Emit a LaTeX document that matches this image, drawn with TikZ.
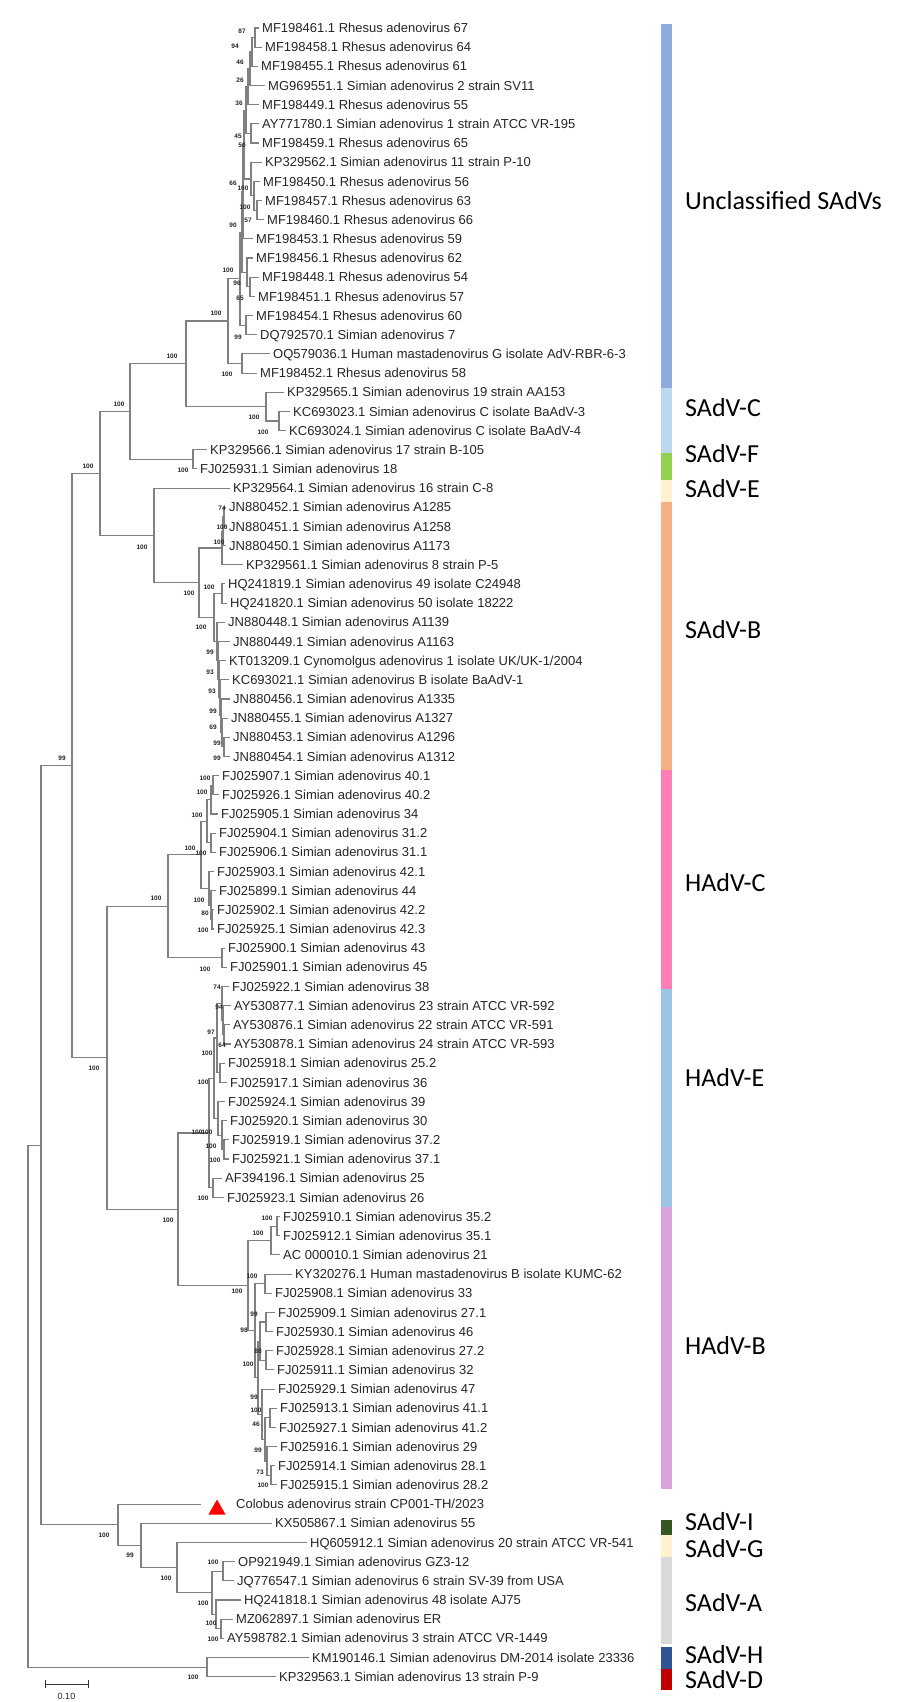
\documentclass[tikz,border=0pt]{standalone}
\usepackage{fontspec}
\setmainfont{Liberation Sans}
\newfontfamily\grpfont{Carlito}
\usetikzlibrary{calc}
\definecolor{brc}{HTML}{808080}
\definecolor{txc}{HTML}{262626}
\definecolor{cUnc}{HTML}{8FAADC}
\definecolor{cSC}{HTML}{BDD7EE}
\definecolor{cSF}{HTML}{92D050}
\definecolor{cSE}{HTML}{FFF2CC}
\definecolor{cSB}{HTML}{F4B183}
\definecolor{cHC}{HTML}{FF7EB3}
\definecolor{cHE}{HTML}{9DC3E6}
\definecolor{cHB}{HTML}{D9A3DC}
\definecolor{cSI}{HTML}{375623}
\definecolor{cSG}{HTML}{FFF2CC}
\definecolor{cSA}{HTML}{D9D9D9}
\definecolor{cSH}{HTML}{2F5597}
\definecolor{cSD}{HTML}{C00000}
\tikzset{
  brl/.style={draw=brc, line width=1.1pt},
  lab/.style={anchor=west, inner sep=0pt, text=txc, font=\fontsize{13}{13}\selectfont, text height=9.3pt, text depth=0pt},
  bsl/.style={inner sep=0pt, text=txc, font=\bfseries\fontsize{6.5}{7}\selectfont},
  grp/.style={anchor=west, inner sep=0pt, text=black, font=\grpfont\fontsize{26}{26}\selectfont, text height=16.7pt, text depth=0pt},
}
\newcommand\lf[4]{%
  \pgfmathsetmacro\lfy{28+(#2-1)*19.17}%
  \coordinate (#1) at (#3,\lfy);%
  \node[lab] (#1t) at (#3+3,\lfy) {#4};}
\newcommand\cl[4]{%
  \coordinate (cla) at ($(#3)!0.5!(#4)$);%
  \coordinate (clb) at (#2,0);%
  \coordinate (#1) at (cla -| clb);%
  \draw[brl] (#3) -- (#3 -| #1) -- (#4 -| #1) -- (#4);}
\begin{document}
\begin{tikzpicture}[x=1pt,y=-1pt]
\useasboundingbox (0,0) rectangle (900,1702);
\fill[white] (0,0) rectangle (900,1702);
% ---------------- leaves ----------------
\lf{l1}{1}{259}{MF198461.1 Rhesus adenovirus 67}
\lf{l2}{2}{262}{MF198458.1 Rhesus adenovirus 64}
\lf{l3}{3}{258}{MF198455.1 Rhesus adenovirus 61}
\lf{l4}{4}{265}{MG969551.1 Simian adenovirus 2 strain SV11}
\lf{l5}{5}{259}{MF198449.1 Rhesus adenovirus 55}
\lf{l6}{6}{259}{AY771780.1 Simian adenovirus 1 strain ATCC VR-195}
\lf{l7}{7}{259}{MF198459.1 Rhesus adenovirus 65}
\lf{l8}{8}{262}{KP329562.1 Simian adenovirus 11 strain P-10}
\lf{l9}{9}{260}{MF198450.1 Rhesus adenovirus 56}
\lf{l10}{10}{262}{MF198457.1 Rhesus adenovirus 63}
\lf{l11}{11}{264}{MF198460.1 Rhesus adenovirus 66}
\lf{l12}{12}{253}{MF198453.1 Rhesus adenovirus 59}
\lf{l13}{13}{253}{MF198456.1 Rhesus adenovirus 62}
\lf{l14}{14}{259}{MF198448.1 Rhesus adenovirus 54}
\lf{l15}{15}{255}{MF198451.1 Rhesus adenovirus 57}
\lf{l16}{16}{253}{MF198454.1 Rhesus adenovirus 60}
\lf{l17}{17}{257}{DQ792570.1 Simian adenovirus 7}
\lf{l18}{18}{270}{OQ579036.1 Human mastadenovirus G isolate AdV-RBR-6-3}
\lf{l19}{19}{257}{MF198452.1 Rhesus adenovirus 58}
\lf{l20}{20}{284}{KP329565.1 Simian adenovirus 19 strain AA153}
\lf{l21}{21}{290}{KC693023.1 Simian adenovirus C isolate BaAdV-3}
\lf{l22}{22}{286}{KC693024.1 Simian adenovirus C isolate BaAdV-4}
\lf{l23}{23}{207}{KP329566.1 Simian adenovirus 17 strain B-105}
\lf{l24}{24}{197}{FJ025931.1 Simian adenovirus 18}
\lf{l25}{25}{230}{KP329564.1 Simian adenovirus 16 strain C-8}
\lf{l26}{26}{226}{JN880452.1 Simian adenovirus A1285}
\lf{l27}{27}{226}{JN880451.1 Simian adenovirus A1258}
\lf{l28}{28}{226}{JN880450.1 Simian adenovirus A1173}
\lf{l29}{29}{243}{KP329561.1 Simian adenovirus 8 strain P-5}
\lf{l30}{30}{225}{HQ241819.1 Simian adenovirus 49 isolate C24948}
\lf{l31}{31}{227}{HQ241820.1 Simian adenovirus 50 isolate 18222}
\lf{l32}{32}{225}{JN880448.1 Simian adenovirus A1139}
\lf{l33}{33}{230}{JN880449.1 Simian adenovirus A1163}
\lf{l34}{34}{226}{KT013209.1 Cynomolgus adenovirus 1 isolate UK/UK-1/2004}
\lf{l35}{35}{229}{KC693021.1 Simian adenovirus B isolate BaAdV-1}
\lf{l36}{36}{230}{JN880456.1 Simian adenovirus A1335}
\lf{l37}{37}{228}{JN880455.1 Simian adenovirus A1327}
\lf{l38}{38}{230}{JN880453.1 Simian adenovirus A1296}
\lf{l39}{39}{230}{JN880454.1 Simian adenovirus A1312}
\lf{l40}{40}{219}{FJ025907.1 Simian adenovirus 40.1}
\lf{l41}{41}{219}{FJ025926.1 Simian adenovirus 40.2}
\lf{l42}{42}{218}{FJ025905.1 Simian adenovirus 34}
\lf{l43}{43}{216}{FJ025904.1 Simian adenovirus 31.2}
\lf{l44}{44}{216}{FJ025906.1 Simian adenovirus 31.1}
\lf{l45}{45}{214}{FJ025903.1 Simian adenovirus 42.1}
\lf{l46}{46}{216}{FJ025899.1 Simian adenovirus 44}
\lf{l47}{47}{214}{FJ025902.1 Simian adenovirus 42.2}
\lf{l48}{48}{214}{FJ025925.1 Simian adenovirus 42.3}
\lf{l49}{49}{225}{FJ025900.1 Simian adenovirus 43}
\lf{l50}{50}{227}{FJ025901.1 Simian adenovirus 45}
\lf{l51}{51}{229}{FJ025922.1 Simian adenovirus 38}
\lf{l52}{52}{231}{AY530877.1 Simian adenovirus 23 strain ATCC VR-592}
\lf{l53}{53}{230}{AY530876.1 Simian adenovirus 22 strain ATCC VR-591}
\lf{l54}{54}{231}{AY530878.1 Simian adenovirus 24 strain ATCC VR-593}
\lf{l55}{55}{225}{FJ025918.1 Simian adenovirus 25.2}
\lf{l56}{56}{227}{FJ025917.1 Simian adenovirus 36}
\lf{l57}{57}{225}{FJ025924.1 Simian adenovirus 39}
\lf{l58}{58}{227}{FJ025920.1 Simian adenovirus 30}
\lf{l59}{59}{229}{FJ025919.1 Simian adenovirus 37.2}
\lf{l60}{60}{229}{FJ025921.1 Simian adenovirus 37.1}
\lf{l61}{61}{222}{AF394196.1 Simian adenovirus 25}
\lf{l62}{62}{224}{FJ025923.1 Simian adenovirus 26}
\lf{l63}{63}{280}{FJ025910.1 Simian adenovirus 35.2}
\lf{l64}{64}{280}{FJ025912.1 Simian adenovirus 35.1}
\lf{l65}{65}{280}{AC 000010.1 Simian adenovirus 21}
\lf{l66}{66}{292}{KY320276.1 Human mastadenovirus B isolate KUMC-62}
\lf{l67}{67}{272}{FJ025908.1 Simian adenovirus 33}
\lf{l68}{68}{275}{FJ025909.1 Simian adenovirus 27.1}
\lf{l69}{69}{273}{FJ025930.1 Simian adenovirus 46}
\lf{l70}{70}{273}{FJ025928.1 Simian adenovirus 27.2}
\lf{l71}{71}{274}{FJ025911.1 Simian adenovirus 32}
\lf{l72}{72}{275}{FJ025929.1 Simian adenovirus 47}
\lf{l73}{73}{277}{FJ025913.1 Simian adenovirus 41.1}
\lf{l74}{74}{276}{FJ025927.1 Simian adenovirus 41.2}
\lf{l75}{75}{277}{FJ025916.1 Simian adenovirus 29}
\lf{l76}{76}{275}{FJ025914.1 Simian adenovirus 28.1}
\lf{l77}{77}{277}{FJ025915.1 Simian adenovirus 28.2}
\pgfmathsetmacro\colY{28+77*19.17}
\coordinate (l78) at (201,\colY);
\node[lab] (l78t) at (236,\colY) {Colobus adenovirus strain CP001-TH/2023};
\fill[red] (208.5,1514.5) -- (225.5,1514.5) -- (217,1499.5) -- cycle;
\lf{l79}{79}{272}{KX505867.1 Simian adenovirus 55}
\lf{l80}{80}{307}{HQ605912.1 Simian adenovirus 20 strain ATCC VR-541}
\lf{l81}{81}{235}{OP921949.1 Simian adenovirus GZ3-12}
\lf{l82}{82}{234}{JQ776547.1 Simian adenovirus 6 strain SV-39 from USA}
\lf{l83}{83}{241}{HQ241818.1 Simian adenovirus 48 isolate AJ75}
\lf{l84}{84}{233}{MZ062897.1 Simian adenovirus ER}
\lf{l85}{85}{224}{AY598782.1 Simian adenovirus 3 strain ATCC VR-1449}
\lf{l86}{86}{309}{KM190146.1 Simian adenovirus DM-2014 isolate 23336}
\lf{l87}{87}{276}{KP329563.1 Simian adenovirus 13 strain P-9}
% ---------------- clades ----------------
\cl{a12}{255}{l1}{l2}
\cl{a123}{252}{a12}{l3}
\cl{a1234}{250}{a123}{l4}
\cl{a1_5}{248}{a1234}{l5}
\cl{a67}{251}{l6}{l7}
\cl{a1_7}{246}{a1_5}{a67}
\cl{a1011}{257}{l10}{l11}
\cl{a9_11}{254}{l9}{a1011}
\cl{a8_11}{251}{l8}{a9_11}
\cl{a1_11}{244}{a1_7}{a8_11}
\cl{a1_12}{243}{a1_11}{l12}
\cl{a1415}{250}{l14}{l15}
\cl{a13_15}{247}{l13}{a1415}
\cl{a1_15}{242}{a1_12}{a13_15}
\cl{a1617}{246}{l16}{l17}
\cl{U1}{240}{a1_15}{a1617}
\cl{n1819}{242}{l18}{l19}
\cl{R}{228}{U1}{n1819}
\cl{n2122}{279}{l21}{l22}
\cl{S}{266}{l20}{n2122}
\cl{P}{186}{R}{S}
\cl{SF}{193}{l23}{l24}
\cl{N130}{130}{P}{SF}
\cl{b2627}{224}{l26}{l27}
\cl{b26_28}{223}{b2627}{l28}
\cl{b26_29}{222}{b26_28}{l29}
\cl{b3031}{222}{l30}{l31}
\cl{b3839}{224}{l38}{l39}
\cl{b37_39}{222}{l37}{b3839}
\cl{b36_39}{221}{l36}{b37_39}
\cl{b35_39}{220}{l35}{b36_39}
\cl{b34_39}{219}{l34}{b35_39}
\cl{b33_39}{218}{l33}{b34_39}
\cl{b32_39}{217}{l32}{b33_39}
\cl{b30_39}{214}{b3031}{b32_39}
\cl{SB}{199}{b26_29}{b30_39}
\cl{N154}{154}{l25}{SB}
\cl{N100}{100}{N130}{N154}
\cl{c4041}{213}{l40}{l41}
\cl{c40_42}{211}{c4041}{l42}
\cl{c4344}{211}{l43}{l44}
\cl{c40_44}{207}{c40_42}{c4344}
\cl{c4748}{212}{l47}{l48}
\cl{c46_48}{211}{l46}{c4748}
\cl{c45_48}{209}{l45}{c46_48}
\cl{HC1}{201}{c40_44}{c45_48}
\cl{c4950}{222}{l49}{l50}
\cl{HC}{168}{HC1}{c4950}
\cl{e5354}{224}{l53}{l54}
\cl{e52_54}{223}{l52}{e5354}
\cl{e51_54}{222}{l51}{e52_54}
\cl{e5556}{220}{l55}{l56}
\cl{e51_56}{217}{e51_54}{e5556}
\cl{e5960}{224}{l59}{l60}
\cl{e58_60}{222}{l58}{e5960}
\cl{e57_60}{218}{l57}{e58_60}
\cl{e51_60}{214}{e51_56}{e57_60}
\cl{e6162}{213}{l61}{l62}
\cl{HE}{209}{e51_60}{e6162}
\cl{h6364}{277}{l63}{l64}
\cl{h63_65}{271}{h6364}{l65}
\cl{h6667}{265}{l66}{l67}
\cl{h6869}{266}{l68}{l69}
\cl{h7071}{266}{l70}{l71}
\cl{h68_71}{260}{h6869}{h7071}
\cl{h7374}{270}{l73}{l74}
\cl{h7677}{271}{l76}{l77}
\cl{h75_77}{267}{l75}{h7677}
\cl{h73_77}{265}{h7374}{h75_77}
\cl{h72_77}{262}{l72}{h73_77}
\cl{h68_77}{258}{h68_71}{h72_77}
\cl{h66_77}{255}{h6667}{h68_77}
\cl{HB}{248}{h63_65}{h66_77}
\cl{EB}{178}{HE}{HB}
\cl{N107}{107}{HC}{EB}
\cl{N72}{72}{N100}{N107}
\cl{n8182}{223}{l81}{l82}
\cl{n8485}{221}{l84}{l85}
\cl{n83_85}{216}{l83}{n8485}
\cl{N217}{212}{n8182}{n83_85}
\cl{N177}{177}{l80}{N217}
\cl{N141}{141}{l79}{N177}
\cl{CC}{118}{l78}{N141}
\cl{N41}{41}{N72}{CC}
\cl{HD}{207}{l86}{l87}
\cl{root}{28}{N41}{HD}
% ---------------- bootstrap values ----------------
\foreach \bx/\by/\bt [count=\i] in {
242/31/87, 235/46/94, 240/62/46, 240/80/26, 239/103/36, 238/136/45, 242/145/50,
233/183/66, 243/188/100, 245/207/100, 248/220/57, 233/225/90, 228/270/100, 237/283/96, 240/298/65,
216/313/100, 238/337/99, 172/356/100, 227/374/100, 119/404/100, 254/417/100, 263/432/100,
88/466/100, 183/470/100, 222/508/74, 222/527/100, 219/542/100, 142/547/100, 209/587/100, 189/593/100,
201/627/100, 210/652/99, 210/672/93, 212/691/93, 213/711/99, 213/727/69, 217/743/99, 217/758/99,
62/758/99, 205/778/100, 202/792/100, 197/815/100, 190/848/100, 201/853/100,
156/898/100, 199/900/100, 205/913/80, 203/930/100, 205/969/100, 217/987/74, 219/1007/94,
211/1032/97, 222/1045/64, 207/1053/100, 94/1068/100, 203/1082/100, 197/1132/100, 207/1132/100, 211/1146/100, 215/1160/100,
203/1198/100, 168/1220/100, 267/1218/100, 258/1233/100, 252/1276/100, 237/1291/100, 254/1314/99,
244/1330/98, 258/1351/88, 248/1364/100, 254/1397/99, 256/1410/100, 256/1424/46, 258/1450/99,
260/1472/73, 263/1485/100, 104/1535/100, 130/1555/99, 166/1578/100, 213/1562/100, 203/1603/100,
211/1623/100, 213/1639/100, 193/1677/100}
  \node[bsl] (bs\i) at (\bx,\by) {\bt};
% ---------------- scale bar ----------------
\coordinate (sbl) at (45,1684);
\coordinate (sbr) at (88,1684);
\draw[line width=1pt, draw=black!80] (sbl) -- (sbr);
\draw[line width=1pt, draw=black!80] ($(sbl)+(0,-4)$) -- ($(sbl)+(0,4)$);
\draw[line width=1pt, draw=black!80] ($(sbr)+(0,-4)$) -- ($(sbr)+(0,4)$);
\node[inner sep=0pt, text=txc, font=\fontsize{9}{9}\selectfont] (sbt) at (66.5,1696) {0.10};
% ---------------- group bars ----------------
\fill[cUnc] (661,24) rectangle (672,388);
\fill[cSC] (661,388) rectangle (672,453);
\fill[cSF] (661,453) rectangle (672,480);
\fill[cSE] (661,480) rectangle (672,502);
\fill[cSB] (661,502) rectangle (672,770);
\fill[cHC] (661,770) rectangle (672,989);
\fill[cHE] (661,989) rectangle (672,1207);
\fill[cHB] (661,1207) rectangle (672,1489);
\fill[cSI] (661,1520) rectangle (672,1535);
\fill[cSG] (661,1535) rectangle (672,1557);
\fill[cSA] (661,1557) rectangle (672,1644);
\fill[cSH] (661,1647) rectangle (672,1669);
\fill[cSD] (661,1669) rectangle (672,1690);
\node[grp] (gUnc) at (685,201) {Unclassified SAdVs};
\node[grp] (gSC) at (685,408) {SAdV-C};
\node[grp] (gSF) at (685,454) {SAdV-F};
\node[grp] (gSE) at (685,489) {SAdV-E};
\node[grp] (gSB) at (685,630) {SAdV-B};
\node[grp] (gHC) at (685,883) {HAdV-C};
\node[grp] (gHE) at (685,1078) {HAdV-E};
\node[grp] (gHB) at (685,1346) {HAdV-B};
\node[grp] (gSI) at (685,1522) {SAdV-I};
\node[grp] (gSG) at (685,1549) {SAdV-G};
\node[grp] (gSA) at (685,1603) {SAdV-A};
\node[grp] (gSH) at (685,1655) {SAdV-H};
\node[grp] (gSD) at (685,1680) {SAdV-D};
\end{tikzpicture}
\end{document}
